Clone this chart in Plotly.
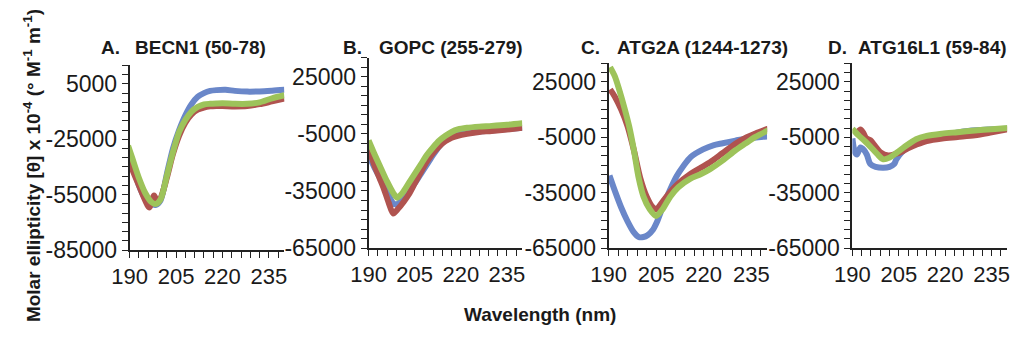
import plotly.graph_objects as go

# ---------------- data ----------------
# Panel A: BECN1 (50-78)
a_blue_x = [189.5, 191, 193, 195, 197, 198.5, 200, 202, 204, 206, 208, 210, 212, 214, 216, 218, 221, 224, 228, 232, 236, 240]
a_blue_y = [-32000, -39000, -50000, -57000, -60000, -60500, -58000, -44000, -30000, -20000, -12000, -6000, -2000, 0, 1200, 1600, 1800, 1200, 800, 900, 1300, 1800]
a_red_x = [189.5, 191, 193, 195, 196.3, 197.9, 199, 200, 202, 204, 206, 208, 210, 212, 214, 216, 218, 220, 224, 228, 232, 236, 240]
a_red_y = [-36000, -42000, -50000, -58000, -62000, -55500, -59000, -57000, -46000, -33000, -23000, -16000, -11500, -9000, -7800, -7200, -7000, -7000, -7200, -7000, -6000, -4500, -3000]
a_green_x = [189.5, 191, 193, 195, 197, 198.5, 200, 202, 204, 206, 208, 210, 212, 214, 216, 218, 220, 224, 228, 232, 236, 240]
a_green_y = [-28500, -36000, -46000, -54000, -59000, -60000, -57500, -45000, -32000, -21000, -14500, -10000, -7500, -6200, -5800, -5600, -5500, -5800, -5800, -5000, -2800, -1200]

# Panel B: GOPC (255-279)
b_blue_x = [190, 192, 194, 196, 198, 199, 201, 203, 205, 207, 209, 211, 213, 215, 217, 219, 222, 226, 230, 235, 240]
b_blue_y = [-16000, -23000, -29000, -35500, -41500, -42000, -39500, -35500, -31000, -26000, -21000, -16000, -11500, -8000, -6000, -5000, -4500, -3800, -3200, -2500, -1800]
b_red_x = [190, 192, 193.5, 195, 196.5, 198, 199.5, 201.5, 203, 205, 207, 209, 211, 213, 215, 217, 219, 222, 226, 230, 235, 240]
b_red_y = [-12700, -22000, -28000, -34000, -41000, -46800, -44500, -40500, -37000, -31000, -25000, -19500, -15000, -11500, -8800, -7000, -6000, -5000, -4000, -3500, -2700, -1800]
b_green_x = [190, 192, 194, 196, 198, 199.3, 201, 203, 205, 207, 209, 211, 213, 215, 217, 219, 222, 226, 230, 235, 240]
b_green_y = [-8500, -16000, -23000, -30000, -36000, -38500, -36000, -31000, -26000, -21000, -16000, -12000, -8500, -6000, -4000, -2700, -1800, -1200, -800, -200, 600]

# Panel C: ATG2A (1244-1273)
c_blue_x = [190.3, 192, 194, 196, 198, 199.5, 201, 202.3, 204, 205.4, 207, 209.5, 211.5, 213.6, 216, 219.8, 223, 226, 230, 234, 240]
c_blue_y = [-25700, -34000, -43000, -50500, -56500, -59000, -59000, -58000, -55000, -50300, -43000, -33000, -26000, -20500, -15500, -11500, -9300, -8200, -6800, -5500, -4500]
c_red_x = [190.5, 192, 194, 196, 198, 200, 202, 204, 205, 207, 209.5, 212, 215.7, 219, 222, 226, 230, 233, 236.3, 240.4]
c_red_y = [21000, 17000, 10000, 1000, -12000, -27000, -37000, -43000, -44000, -40000, -34500, -30000, -25000, -21500, -18500, -13500, -8500, -5500, -3000, -300]
c_green_x = [190.5, 192, 193.5, 195, 196.5, 198, 199.5, 201, 203, 205, 207, 209.5, 212, 215.7, 219, 222, 226, 230, 233, 236.3, 240.4]
c_green_y = [33000, 28000, 20000, 11000, 1000, -12000, -27000, -37000, -44000, -47600, -44000, -37000, -32000, -27500, -25000, -22200, -17500, -12000, -8500, -4800, -1200]

# Panel D: ATG16L1 (59-84)
d_blue_x = [190, 190.8, 191.5, 192.6, 193.8, 194.7, 195.8, 197.5, 200, 202, 203.5, 204.2, 206, 208.5, 211, 214.8, 220, 227.4, 234, 240]
d_blue_y = [-5600, -13000, -14300, -10500, -12000, -14500, -19500, -21000, -21500, -21000, -19500, -17000, -13000, -9800, -7500, -5400, -3500, -1500, -700, -300]
d_red_x = [191.8, 192.6, 193.5, 194.5, 195.8, 197, 199, 201.6, 204, 206.3, 208.5, 210.6, 214, 219, 224, 229.6, 235, 241]
d_red_y = [-2000, -700, -2500, -5500, -6500, -9000, -13000, -14800, -14000, -12500, -10500, -9000, -7000, -5600, -4800, -3900, -2300, -400]
d_green_x = [190, 192, 194, 195.8, 198, 200, 202, 204.2, 207, 210.6, 214, 219, 224, 229.6, 235, 241]
d_green_y = [-400, -4000, -7000, -10000, -14000, -16900, -16000, -13500, -10000, -6000, -4200, -3000, -2200, -1300, -600, 100]

panel_letters = ["A.", "B.", "C.", "D."]
panel_names = ["BECN1 (50-78)", "GOPC (255-279)", "ATG2A (1244-1273)", "ATG16L1 (59-84)"]
y_ranges = [[-85000, 15000], [-65000, 35000], [-65000, 35000], [-65000, 35000]]
y_tickvals = [[5000, -25000, -55000, -85000], [25000, -5000, -35000, -65000],
              [25000, -5000, -35000, -65000], [25000, -5000, -35000, -65000]]
x_ticks = [190, 205, 220, 235]

series = [
    [(a_blue_x, a_blue_y), (a_red_x, a_red_y), (a_green_x, a_green_y)],
    [(b_blue_x, b_blue_y), (b_red_x, b_red_y), (b_green_x, b_green_y)],
    [(c_blue_x, c_blue_y), (c_red_x, c_red_y), (c_green_x, c_green_y)],
    [(d_blue_x, d_blue_y), (d_red_x, d_red_y), (d_green_x, d_green_y)],
]
colors = ["#6A87C9", "#B0534F", "#9DC35A"]

# ---------------- layout (pixels) ----------------
W, H = 1015, 339
# (left, right, top, bottom) in pixels
boxes = [(114, 272, 68, 260), (358, 515, 60, 258), (603, 765, 66, 258), (852, 1010, 66, 258)]
letter_x = [83, 330, 573, 825]
name_x = [117, 367, 610, 856]
title_y = 49

fig = go.Figure()
layout = dict(
    width=W, height=H, margin=dict(l=0, r=0, t=0, b=0),
    paper_bgcolor="white", plot_bgcolor="white", showlegend=False,
    font=dict(family="Liberation Sans, Arial, sans-serif", color="#1a1a1a"),
)
annotations = []
for i in range(4):
    xa = "x" if i == 0 else f"x{i+1}"
    ya = "y" if i == 0 else f"y{i+1}"
    for (xs, ys), col in zip(series[i], colors):
        fig.add_trace(go.Scatter(x=xs, y=ys, mode="lines", xaxis=xa, yaxis=ya,
                                 line=dict(color=col, width=6, shape="spline", smoothing=0.8)))
    l, r, t, b = boxes[i]
    xkey = "xaxis" if i == 0 else f"xaxis{i+1}"
    ykey = "yaxis" if i == 0 else f"yaxis{i+1}"
    layout[xkey] = dict(
        domain=[l / W, r / W], anchor=ya, range=[190, 240],
        tickmode="linear", tick0=190, dtick=15,
        ticks="outside", ticklen=6, tickwidth=1.3, tickcolor="#222",
        showline=True, linecolor="#222", linewidth=1.8, showgrid=False, zeroline=False,
        tickfont=dict(family="Liberation Sans Narrow, Arial Narrow, Liberation Sans, sans-serif", size=22, color="#1a1a1a"),
        minor=dict(tickmode="linear", tick0=190, dtick=3, ticks="outside", ticklen=6, tickwidth=1.3,
                   tickcolor="#222", showgrid=False),
    )
    layout[ykey] = dict(
        domain=[1 - b / H, 1 - t / H], anchor=xa, range=y_ranges[i],
        tickmode="array", tickvals=y_tickvals[i], ticktext=[str(v) for v in y_tickvals[i]],
        ticks="outside", ticklen=6, tickwidth=1.3, tickcolor="#222",
        showline=True, linecolor="#222", linewidth=1.8, showgrid=False, zeroline=False,
        tickfont=dict(size=23, color="#1a1a1a"),
        minor=dict(tickmode="linear", tick0=y_tickvals[i][0], dtick=5000, ticks="outside", ticklen=6,
                   tickwidth=1.3, tickcolor="#222", showgrid=False),
    )
    annotations.append(dict(text=f"<b>{panel_letters[i]}</b>", x=letter_x[i] / W, y=1 - title_y / H,
                            xref="paper", yref="paper", xanchor="left", yanchor="middle",
                            showarrow=False, font=dict(size=19, color="#1a1a1a")))
    annotations.append(dict(text=f"<b>{panel_names[i]}</b>", x=name_x[i] / W, y=1 - title_y / H,
                            xref="paper", yref="paper", xanchor="left", yanchor="middle",
                            showarrow=False, font=dict(size=19, color="#1a1a1a")))

annotations.append(dict(text="<b>Wavelength (nm)</b>", x=533 / W, y=1 - 327 / H, xref="paper", yref="paper",
                        xanchor="center", yanchor="middle", showarrow=False,
                        font=dict(size=19, color="#1a1a1a")))
annotations.append(dict(text="<b>Molar ellipticity [θ] x 10<sup>-4</sup> (° M<sup>-1</sup> m<sup>-1</sup>)</b>",
                        x=15 / W, y=1 - 172 / H, xref="paper", yref="paper", textangle=-90,
                        xanchor="center", yanchor="middle", showarrow=False,
                        font=dict(size=19, color="#1a1a1a")))
layout["annotations"] = annotations
fig.update_layout(**layout)
fig.write_html("out.html")
